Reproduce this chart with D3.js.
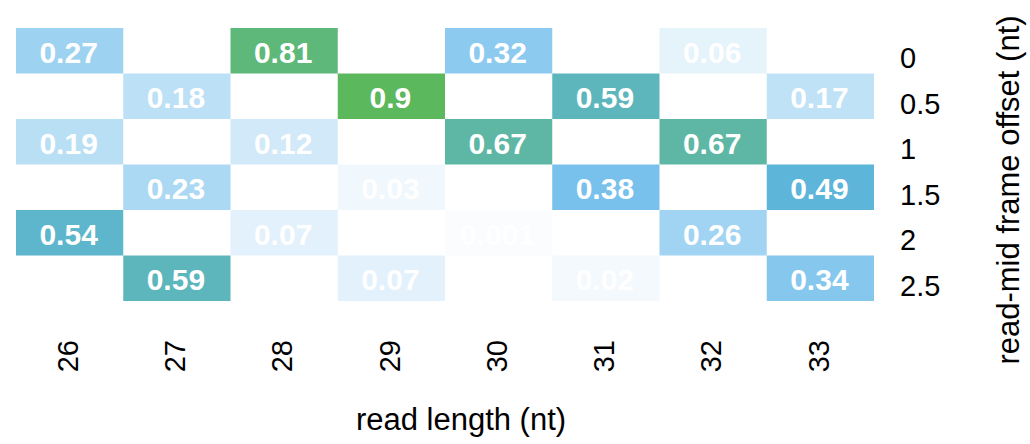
<!DOCTYPE html>
<html>
<head>
<meta charset="utf-8">
<script src="https://cdn.jsdelivr.net/npm/d3@7"></script>
<style>
  body { margin: 0; background: #fff; }
  text { font-family: "Liberation Sans", Arial, sans-serif; }
</style>
</head>
<body>
<svg width="1030" height="444"></svg>
<script>
var readLengths = [26, 27, 28, 29, 30, 31, 32, 33];
var offsets = ["0", "0.5", "1", "1.5", "2", "2.5"];
// one row per offset, one entry per read length (null = no cell)
var row0  = [0.27, null, 0.81, null, 0.32, null, 0.06, null];
var row05 = [null, 0.18, null, 0.9, null, 0.59, null, 0.17];
var row1  = [0.19, null, 0.12, null, 0.67, null, 0.67, null];
var row15 = [null, 0.23, null, 0.03, null, 0.38, null, 0.49];
var row2  = [0.54, null, 0.07, null, 0.001, null, 0.26, null];
var row25 = [null, 0.59, null, 0.07, null, 0.02, null, 0.34];
var rows = [row0, row05, row1, row15, row2, row25];

var cells = [];
rows.forEach(function(r, i) {
  r.forEach(function(v, j) {
    if (v !== null) cells.push({len: readLengths[j], off: offsets[i], value: v});
  });
});

var svg = d3.select("svg");

var x = d3.scaleBand().domain(readLengths).range([16, 874]);
var y = d3.scaleBand().domain(offsets).range([28, 301]);

var color = d3.scaleLinear()
  .domain([0, 0.38, 0.49, 0.67, 0.9])
  .range(["#fafcfe", "#78c1ec", "#5db5da", "#5eb7a5", "#5cb85c"]);

svg.selectAll("rect.cell")
  .data(cells)
  .enter()
  .append("rect")
  .attr("class", "cell")
  .attr("x", d => x(d.len))
  .attr("y", d => y(d.off))
  .attr("width", x.bandwidth())
  .attr("height", y.bandwidth())
  .attr("fill", d => color(d.value));

svg.selectAll("text.val")
  .data(cells)
  .enter()
  .append("text")
  .attr("class", "val")
  .attr("x", d => x(d.len) + x.bandwidth() / 2 - 1)
  .attr("y", d => y(d.off) + y.bandwidth() / 2 + 12)
  .attr("text-anchor", "middle")
  .attr("font-size", 30)
  .attr("font-weight", "bold")
  .attr("fill", "#fff")
  .text(d => String(d.value));

// right-hand axis (offsets)
var yAxis = d3.axisRight(y).tickSize(0).tickPadding(0);
var gy = svg.append("g")
  .attr("transform", "translate(900,0)")
  .call(yAxis);
gy.select(".domain").remove();
gy.selectAll("text")
  .attr("font-size", 29)
  .attr("fill", "#000")
  .attr("dy", "0.6em")
  .attr("x", 0);

// bottom axis (read lengths), rotated labels
var xAxis = d3.axisBottom(x).tickSize(0).tickPadding(0);
var gx = svg.append("g")
  .attr("transform", "translate(0,340)")
  .call(xAxis);
gx.select(".domain").remove();
gx.selectAll("text")
  .attr("font-size", 29)
  .attr("fill", "#000")
  .attr("y", 0)
  .attr("x", 0)
  .attr("dy", "0.35em")
  .attr("text-anchor", "end")
  .attr("transform", "translate(-2,0) rotate(-90)");

svg.append("text")
  .attr("x", 461)
  .attr("y", 430)
  .attr("text-anchor", "middle")
  .attr("font-size", 31)
  .text("read length (nt)");

svg.append("text")
  .attr("transform", "translate(1008,190) rotate(-90)")
  .attr("text-anchor", "middle")
  .attr("dy", "0.35em")
  .attr("font-size", 31)
  .text("read-mid frame offset (nt)");
</script>
</body>
</html>
